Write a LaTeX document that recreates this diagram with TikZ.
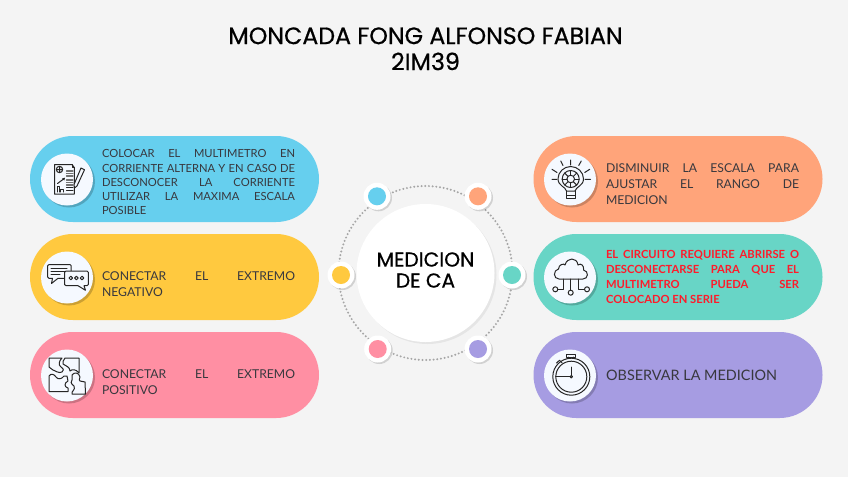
\documentclass[tikz,border=0pt]{standalone}
\usepackage{fontspec}
\usetikzlibrary{shadows}
\setmainfont{Lato}
\newfontfamily\titlefont[FakeBold=0.6]{Poppins}
\definecolor{bgc}{HTML}{F4F4F4}
\definecolor{cblue}{HTML}{66CFEE}
\definecolor{cyellow}{HTML}{FFC93F}
\definecolor{cpink}{HTML}{FF8FA3}
\definecolor{corange}{HTML}{FFA47A}
\definecolor{cteal}{HTML}{68D5C6}
\definecolor{cpurple}{HTML}{A69CE2}
\definecolor{iconbg}{HTML}{F5F9FF}
\definecolor{ink}{HTML}{38383E}
\definecolor{ired}{HTML}{FF1A2A}
\definecolor{icn}{HTML}{262626}
\newcommand\jl[1]{\hbox to 193pt{#1}}
\newcommand\lastl[1]{\hbox to 193pt{#1\hfill}}
\newcommand\stack[2]{\vbox{\baselineskip=#1\lineskiplimit=-20pt #2}}
\tikzset{
  x=1pt,y=-1pt,
  pill/.style={rounded corners=42.9pt,minimum width=289pt,minimum height=86pt,inner sep=0pt,fill=#1},
  softshadow/.style={drop shadow={shadow xshift=2pt,shadow yshift=-2pt,opacity=.2,fill=black}},
  iconc/.style={circle,fill=iconbg,minimum size=52pt,inner sep=0pt,softshadow},
  dotc/.style={circle,fill=white,minimum size=27pt,inner sep=0pt,drop shadow={shadow xshift=1.5pt,shadow yshift=-1.5pt,opacity=.14,fill=black}},
  dotin/.style={circle,fill=#1,minimum size=18pt,inner sep=0pt},
  bodytxt/.style={inner sep=0pt,text=ink,font=\fontsize{11.2}{14}\selectfont},
  bodybig/.style={inner sep=0pt,text=ink,font=\fontsize{12.2}{16}\selectfont},
  redtxt/.style={inner sep=0pt,text=ired,font=\fontsize{11.2}{14}\selectfont\bfseries},
  icl/.style={draw=icn,line width=1pt,line join=round,line cap=round},
  ttl/.style={inner sep=0pt,text=black,align=center,font=\fontsize{23.7}{26}\selectfont\titlefont},
}
\begin{document}
\begin{tikzpicture}
\useasboundingbox (0,0) rectangle (848,477);
\fill[bgc] (0,0) rectangle (848,477);
\node[ttl] (title) at (425.5,48.8) {MONCADA FONG ALFONSO FABIAN\\2IM39};
% ring and hub
\node[circle,minimum size=174pt,inner sep=0pt,draw=black!35,line width=2.2pt,line cap=round,dash pattern=on 0pt off 3.7pt] (ring) at (425.5,273) {};
\node[circle,fill=white,minimum size=138pt,inner sep=0pt,drop shadow={shadow xshift=2pt,shadow yshift=-2pt,opacity=.06,fill=black}] (hub) at (425.5,273) {};
\node[inner sep=0pt,align=center,text=black,font=\fontsize{20.2}{21}\selectfont\titlefont] (hubtext) at (425.5,270) {MEDICION\\DE CA};
% small dots
\foreach \n/\c/\px/\py in {blue/cblue/377/196.3,orange/corange/478/196.3,yellow/cyellow/341/275,teal/cteal/512/275,pink/cpink/377.7/349,purple/cpurple/478/349}{
  \node[dotc] (ring\n) at (\px,\py) {};
  \node[dotin=\c] (dot\n) at (\px,\py) {};
}
% pills
\node[pill=cblue] (p1) at (174.5,179) {};
\node[pill=cyellow] (p2) at (174.5,277) {};
\node[pill=cpink] (p3) at (174.5,375) {};
\node[pill=corange] (p4) at (678,179) {};
\node[pill=cteal] (p5) at (678,277) {};
\node[pill=cpurple] (p6) at (678,375) {};
% icon discs
\node[iconc] (i1) at (67,179.5) {};
\node[iconc] (i2) at (67,277.5) {};
\node[iconc] (i3) at (67,375.5) {};
\node[iconc] (i4) at (570,179.5) {};
\node[iconc] (i5) at (570,277.5) {};
\node[iconc] (i6) at (570,375.5) {};
% texts
\node[bodytxt] (t1) at (198.5,182.3) {\stack{14.2pt}{%
  \jl{COLOCAR\hfill EL\hfill MULTIMETRO\hfill EN}%
  \jl{CORRIENTE\hfill ALTERNA\hfill Y\hfill EN\hfill CASO\hfill DE}%
  \jl{DESCONOCER\hfill LA\hfill CORRIENTE}%
  \jl{UTILIZAR\hfill LA\hfill MAXIMA\hfill ESCALA}%
  \lastl{POSIBLE}}};
\node[bodybig] (t2) at (198.5,284) {\stack{16pt}{%
  \jl{CONECTAR\hfill EL\hfill EXTREMO}%
  \lastl{NEGATIVO}}};
\node[bodybig] (t3) at (198.5,382) {\stack{16pt}{%
  \jl{CONECTAR\hfill EL\hfill EXTREMO}%
  \lastl{POSITIVO}}};
\node[bodybig] (t4) at (702.5,183.7) {\stack{16pt}{%
  \jl{DISMINUIR\hfill LA\hfill ESCALA\hfill PARA}%
  \jl{AJUSTAR\hfill EL\hfill RANGO\hfill DE}%
  \lastl{MEDICION}}};
\node[redtxt] (t5) at (702.5,276.8) {\stack{15pt}{%
  \jl{EL\hfill CIRCUITO\hfill REQUIERE\hfill ABRIRSE\hfill O}%
  \jl{DESCONECTARSE\hfill PARA\hfill QUE\hfill EL}%
  \jl{MULTIMETRO\hfill PUEDA\hfill SER}%
  \lastl{COLOCADO\ EN\ SERIE}}};
\node[inner sep=0pt,text=ink,font=\fontsize{14.4}{16}\selectfont,anchor=west] (t6) at (606,375.7) {OBSERVAR LA MEDICION};
% icon 1: document
\draw[icl] (72,164.5) -- (54.5,164.5) -- (54.5,194) -- (74.3,194) -- (74.3,167.5) -- cycle;
\draw[icl] (72,164.5) -- (72,167.5) -- (74.3,167.5);
\draw[icl] (59.5,169.5) circle (3.2) (56.3,169.5) -- (62.7,169.5) (59.5,166.3) -- (59.5,172.7);
\draw[icl,line width=1.1pt,draw=icn!65] (66.5,171) -- (73,171) (66.5,173.5) -- (73,173.5) (66.5,176) -- (73,176) (66.5,180) -- (73,180) (66.5,182.5) -- (73,182.5) (66.5,185) -- (73,185);
\draw[icl] (57.5,183.5) -- (64.3,178.5);
\fill[icn] (62,178.5) -- (65,177.7) -- (64.3,180.5) -- cycle;
\draw[icl] (57,192) -- (57,186.5) -- (59.5,186.5) -- (59.5,192) (60.5,192) -- (60.5,189) -- (63,189) -- (63,192);
\draw[icl] (66.5,187.5) -- (73,187.5) (66.5,190.5) -- (73,190.5);
\draw[icl,fill=iconbg] (81,168) -- (84.5,169.8) -- (77,186) -- (74.5,188) -- (74,184.5) -- cycle;
% icon 2: speech bubbles
\draw[icl] (49,264.5) -- (70,264.5) -- (71.2,265.7) -- (71.2,277) -- (70,278.3) -- (58,278.3) -- (51.5,283.5) -- (52.5,278.3) -- (49,278.3) -- (47.7,277) -- (47.7,265.7) -- cycle;
\draw[icl] (51,268.5) -- (67,268.5) (51,271.5) -- (67,271.5) (51,274.5) -- (60,274.5);
\draw[icl,fill=iconbg] (66,271) -- (87,271) -- (88.3,272.3) -- (88.3,284.5) -- (87,285.7) -- (84,285.7) -- (85.5,290.3) -- (78,285.7) -- (66,285.7) -- (64.6,284.5) -- (64.6,272.3) -- cycle;
\draw[icl] (70.8,278) circle (1.8) (76.4,278) circle (1.8) (82,278) circle (1.8);
% icon 3: puzzle
\draw[icl] (49,358) -- (62,358) .. controls (59,361) and (58,365) .. (61,367) .. controls (64,369) and (64,371) .. (62,372) .. controls (59,374) and (54,370) .. (53,370) -- (49,367) -- cycle;
\draw[icl] (65,358) -- (79,358) -- (79,373) .. controls (76,369) and (72,369) .. (70,371) .. controls (70,367) and (66,366) .. (63,364) .. controls (62,362) and (64,360) .. (65,358) -- cycle;
\draw[icl] (49,376) .. controls (51,373) and (54,374) .. (56,377) .. controls (58,380) and (62,379) .. (64,376) -- (67,376) -- (68,381) .. controls (64,383) and (64,387) .. (68,388) -- (68,391.5) -- (49,391.5) -- cycle;
\draw[icl] (72,375) .. controls (74,372) and (79,372) .. (80,377) .. controls (79,379) and (79,381) .. (80,381) -- (85,382) -- (85.5,394) -- (72,394) .. controls (71,391) and (76,390) .. (74,386) .. controls (71,384) and (70,381) .. (72,380) -- cycle;
% icon 4: bulb with gear
\draw[icl] (566.5,191) .. controls (565.5,186.5) and (558,186) .. (558,178.8) .. controls (558,172) and (564,166.5) .. (570.7,166.5) .. controls (577.4,166.5) and (583.5,172) .. (583.5,178.8) .. controls (583.5,186) and (576,186.5) .. (575,191) -- cycle;
\draw[icl] (566.5,191) -- (566.5,198.3) -- (575,198.3) -- (575,191) (566.5,195) -- (575,195);
\draw[icl] (570.7,179) circle (3.8) (570.7,179) circle (8.5);
\foreach \a in {0,45,...,315}{\draw[icl] (570.7,179) ++(\a:3.8) -- ++(\a:4.7);}
\draw[icl] (552,179.3) -- (557,179.3) (585,179.3) -- (590.5,179.3) (570.7,160) -- (570.7,165) (560.7,161) -- (563,165.5) (581.3,161) -- (578.7,165.5) (552,169.3) -- (557,172.5) (589.7,169.3) -- (584.7,172.5);
% icon 5: cloud
\draw[icl] (563,279) -- (559,279) .. controls (553,279) and (553,270) .. (558.5,269) .. controls (558.5,264.5) and (564,263) .. (565,265) .. controls (567,257) and (577,257) .. (578,265) .. controls (581,262.5) and (584.5,266) .. (583.5,270) .. controls (589,271) and (588.5,279) .. (583,279) -- cycle;
\draw[icl] (570.7,279) -- (570.7,290.2) (563,279) -- (563,289.3) -- (557.8,289.3) (578.7,279) -- (578.7,289.3) -- (584.5,289.3);
\draw[icl] (555.3,289.3) circle (2.5) (570.7,292.7) circle (2.5) (587,289.3) circle (2.5);
% icon 6: stopwatch
\draw[icl] (571.3,376.7) circle (18.5) (571.3,376.7) circle (15.5) (571.3,376.7) circle (1.2);
\draw[icl] (566.7,354) rectangle (575.5,357) (568.5,357) -- (568.5,358.2) (573.5,357) -- (573.5,358.2);
\draw[icl] (571.3,375.5) -- (571.3,367) (570,376.7) -- (555.5,376.7);
\draw[icl] (556.5,363) -- (559.5,360.3) -- (562,362.7);
\end{tikzpicture}
\end{document}
